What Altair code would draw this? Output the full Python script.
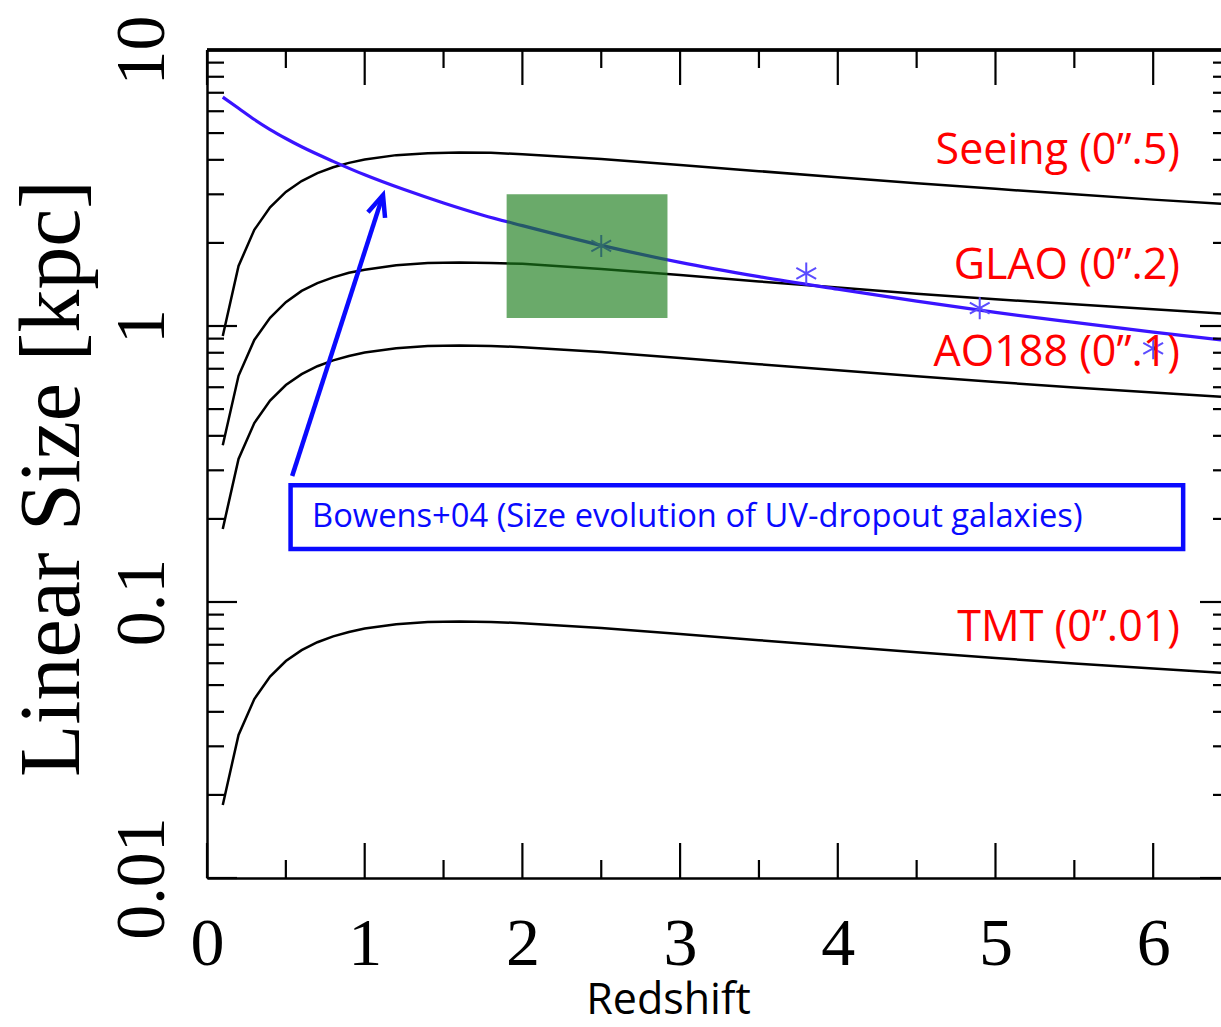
import altair as alt
import pandas as pd

# ---------------- data ----------------
z_grid = [0.1, 0.2, 0.3, 0.4, 0.5, 0.6, 0.7, 0.8, 0.9, 1.0, 1.2, 1.4, 1.6, 1.8,
          2.0, 2.5, 3.0, 3.5, 4.0, 4.5, 5.0, 5.5, 6.0, 6.43]
seeing = [0.92, 1.65, 2.23, 2.69, 3.06, 3.35, 3.58, 3.76, 3.90, 4.01, 4.16, 4.23,
          4.25, 4.24, 4.19, 4.03, 3.83, 3.64, 3.46, 3.29, 3.14, 3.00, 2.87, 2.77]
glao = [0.37, 0.66, 0.89, 1.07, 1.22, 1.34, 1.43, 1.50, 1.56, 1.60, 1.66, 1.69,
        1.70, 1.69, 1.68, 1.61, 1.53, 1.45, 1.38, 1.31, 1.25, 1.20, 1.15, 1.11]
ao188 = [0.184, 0.33, 0.445, 0.537, 0.611, 0.669, 0.715, 0.751, 0.779, 0.801, 0.831, 0.846,
         0.850, 0.847, 0.838, 0.805, 0.766, 0.727, 0.691, 0.657, 0.627, 0.599, 0.574, 0.554]
tmt = [0.0184, 0.033, 0.0445, 0.0537, 0.0611, 0.0669, 0.0715, 0.0751, 0.0779, 0.0801, 0.0831, 0.0846,
       0.0850, 0.0847, 0.0838, 0.0805, 0.0766, 0.0727, 0.0691, 0.0657, 0.0627, 0.0599, 0.0574, 0.0554]

bouwens_z = [0.1, 0.2, 0.3, 0.4, 0.5, 0.6, 0.8, 1.0, 1.25, 1.5, 1.75, 2.0, 2.5,
             3.0, 3.5, 4.0, 4.5, 5.0, 5.5, 6.0, 6.43]
bouwens_size = [6.75, 6.15, 5.6, 5.15, 4.78, 4.46, 3.95, 3.53, 3.12, 2.79, 2.52, 2.31, 1.96,
                1.70, 1.51, 1.36, 1.23, 1.12, 1.03, 0.95, 0.89]

points_z = [2.5, 3.8, 4.9, 6.0]
points_size = [1.95, 1.55, 1.16, 0.83]

curve_labels = ["Seeing (0\u201d.5)", "GLAO (0\u201d.2)", "AO188 (0\u201d.1)", "TMT (0\u201d.01)"]
label_z = [6.17, 6.17, 6.17, 6.17]
label_size = [4.31, 1.65, 0.797, 0.0805]

box_z = [0.53, 6.19]
box_size = [0.1556, 0.265]
box_text = ["Bowens+04 (Size evolution of UV-dropout galaxies)"]
box_text_z = [0.666]
box_text_size = [0.203]

arrow_z = [0.54, 1.116]
arrow_size = [0.286, 2.98]

green_z = [1.9, 2.92]
green_size = [1.07, 3.0]

x_major = [0, 1, 2, 3, 4, 5, 6]
x_minor = [0.5, 1.5, 2.5, 3.5, 4.5, 5.5]
y_major = [0.01, 0.1, 1, 10]
y_minor = [0.02, 0.03, 0.04, 0.05, 0.06, 0.07, 0.08, 0.09,
           0.2, 0.3, 0.4, 0.5, 0.6, 0.7, 0.8, 0.9,
           2, 3, 4, 5, 6, 7, 8, 9]

# ---------------- tables ----------------
W, H = 1014, 828
curves = pd.DataFrame({
    "z": z_grid * 4,
    "size": seeing + glao + ao188 + tmt,
    "curve": (["seeing"] * len(z_grid) + ["glao"] * len(z_grid)
              + ["ao188"] * len(z_grid) + ["tmt"] * len(z_grid)),
})
bouwens = pd.DataFrame({"z": bouwens_z, "size": bouwens_size})
pts = pd.DataFrame({"z": points_z, "size": points_size})
labels = pd.DataFrame({"z": label_z, "size": label_size, "text": curve_labels})
box = pd.DataFrame({"z": [box_z[0]], "z2": [box_z[1]], "size": [box_size[0]], "size2": [box_size[1]]})
box_lab = pd.DataFrame({"z": box_text_z, "size": box_text_size, "text": box_text})
arrow = pd.DataFrame({"z": arrow_z, "size": arrow_size})
arrow_tip = arrow.iloc[[1]]
green = pd.DataFrame({"z": [green_z[0]], "z2": [green_z[1]], "size": [green_size[0]], "size2": [green_size[1]]})
xmaj = pd.DataFrame({"z": x_major})
xmin = pd.DataFrame({"z": x_minor})
ymaj = pd.DataFrame({"size": y_major})
ymin = pd.DataFrame({"size": y_minor})

xs = alt.Scale(domain=[0, 6.43], nice=False, zero=False)
ys = alt.Scale(type="log", domain=[0.01, 10], nice=False)

x_axis = alt.Axis(
    values=x_major, format="d", ticks=False, tickSize=0, grid=False,
    domain=True, domainColor="black", domainWidth=2.5,
    labelFont="Liberation Serif", labelFontSize=68, labelColor="black",
    labelPadding=32, labelFlush=False, labelOverlap=False,
    title="Redshift", titleFont="Open Sans", titleFontSize=43, titleFontWeight="normal",
    titleColor="black", titleX=461, titleY=135, titleBaseline="alphabetic", titleAlign="center",
)
y_axis = alt.Axis(
    values=y_major, format="~g", ticks=False, tickSize=0, grid=False,
    domain=True, domainColor="black", domainWidth=2.5,
    labelFont="Liberation Serif", labelFontSize=70, labelColor="black",
    labelAngle=270, labelAlign="center", labelBaseline="alphabetic",
    labelPadding=44, labelFlush=False, labelOverlap=False,
    title="Linear Size [kpc]", titleFont="Liberation Serif", titleFontSize=86,
    titleFontWeight="normal", titleColor="black", titleAngle=270,
    titleX=-129, titleY=428, titleBaseline="alphabetic", titleAlign="center",
)

X = alt.X("z:Q", scale=xs, axis=x_axis)
Y = alt.Y("size:Q", scale=ys, axis=y_axis)

black_lines = alt.Chart(curves).mark_line(color="black", strokeWidth=2.5, clip=True).encode(
    x=X, y=Y, detail="curve:N",
)
blue_line = alt.Chart(bouwens).mark_line(color="#3a14ff", strokeWidth=3.2, interpolate="monotone", clip=True).encode(
    x=X, y=Y
)
aster_path = "M0,-1L0,1M-0.9,-0.5L0.9,0.5M-0.9,0.5L0.9,-0.5"
asterisks = alt.Chart(pts).mark_point(shape=aster_path, size=484, filled=False, strokeWidth=2,
                                      color="#5b4cff", opacity=1).encode(x=X, y=Y)
green_rect = alt.Chart(green).mark_rect(color="#1a7d1a", opacity=0.65).encode(
    x=X, x2="z2:Q", y=Y, y2="size2:Q",
)
box_rect = alt.Chart(box).mark_rect(fill="white", stroke="#0a0aff", strokeWidth=4.5).encode(
    x=X, x2="z2:Q", y=Y, y2="size2:Q",
)
box_txt = alt.Chart(box_lab).mark_text(font="Open Sans", fontSize=32.7, color="#0a0aff",
                                       align="left", baseline="middle").encode(x=X, y=Y, text="text:N")
arrow_line = alt.Chart(arrow).mark_line(color="#0a0aff", strokeWidth=4.5).encode(x=X, y=Y)
arrow_head = alt.Chart(arrow_tip).mark_point(shape="M-0.75,1.75L0,0L0.75,1.75", size=576, filled=False,
                                              strokeWidth=4.5, color="#0a0aff", angle=18, opacity=1).encode(x=X, y=Y)
red_labels = alt.Chart(labels).mark_text(font="Open Sans", fontSize=43, color="#ff0000",
                                         align="right", baseline="middle").encode(x=X, y=Y, text="text:N")

TK = dict(color="black", strokeWidth=2.2)
xb_maj = alt.Chart(xmaj).mark_rule(**TK).encode(x=X, y=alt.value(H - 35), y2=alt.value(H))
xb_min = alt.Chart(xmin).mark_rule(**TK).encode(x=X, y=alt.value(H - 18), y2=alt.value(H))
xt_maj = alt.Chart(xmaj).mark_rule(**TK).encode(x=X, y=alt.value(0), y2=alt.value(35))
xt_min = alt.Chart(xmin).mark_rule(**TK).encode(x=X, y=alt.value(0), y2=alt.value(18))
yl_maj = alt.Chart(ymaj).mark_rule(**TK).encode(y=Y, x=alt.value(0), x2=alt.value(30))
yl_min = alt.Chart(ymin).mark_rule(**TK).encode(y=Y, x=alt.value(0), x2=alt.value(17))
yr_maj = alt.Chart(ymaj).mark_rule(**TK).encode(y=Y, x=alt.value(W - 21), x2=alt.value(W))
yr_min = alt.Chart(ymin).mark_rule(**TK).encode(y=Y, x=alt.value(W - 8), x2=alt.value(W))
top_line = alt.Chart(xmaj).mark_rule(color="black", strokeWidth=2.5).encode(
    x=alt.value(0), x2=alt.value(W), y=alt.value(0)
)

chart = alt.layer(
    black_lines, blue_line, asterisks, green_rect,
    arrow_line, arrow_head, box_rect, box_txt, red_labels,
    xb_maj, xb_min, xt_maj, xt_min, yl_maj, yl_min, yr_maj, yr_min, top_line,
).properties(
    width=W, height=H,
    autosize=alt.AutoSizeParams(type="none"),
    padding={"left": 207, "top": 50, "right": 0, "bottom": 149},
    background="white",
).configure_view(stroke=None)

chart.save("out.html", embed_options={"renderer": "svg", "actions": False})
